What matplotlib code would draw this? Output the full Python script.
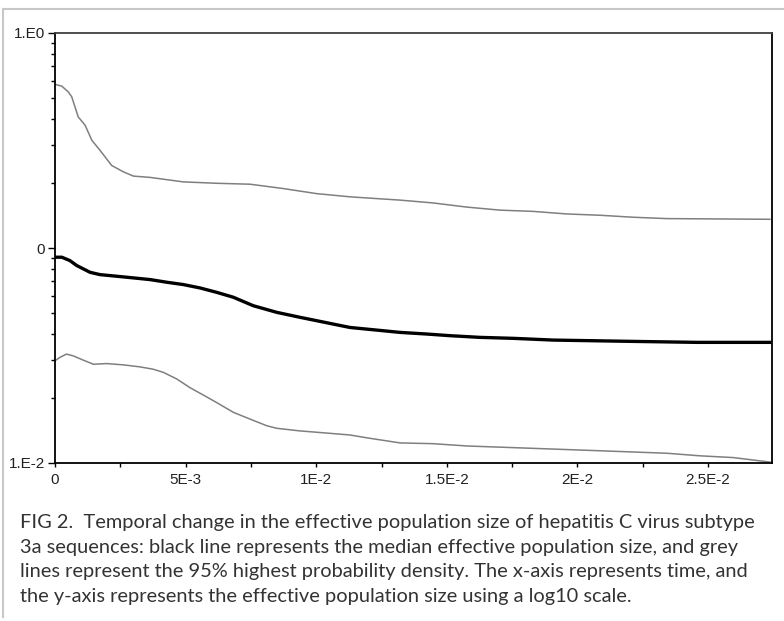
import matplotlib
matplotlib.use('Agg')
import matplotlib.pyplot as plt
from matplotlib.lines import Line2D
from matplotlib.ticker import LogLocator, FixedLocator, FixedFormatter, NullFormatter

# time (x) in units of 1E-3
upper_x = [0, 0.26, 0.51, 0.64, 0.89, 1.15, 1.41, 1.72, 2.17, 2.62, 3.00, 3.64, 4.91, 6.19, 7.47,
           8.74, 10.02, 11.29, 13.21, 14.48, 15.76, 17.04, 18.31, 19.59, 20.87, 22.14, 23.42, 27.37]
upper_y = [0.577, 0.566, 0.532, 0.505, 0.407, 0.373, 0.317, 0.285, 0.242, 0.226, 0.216, 0.213, 0.203, 0.200, 0.198,
           0.189, 0.179, 0.173, 0.167, 0.162, 0.155, 0.150, 0.148, 0.144, 0.142, 0.139, 0.137, 0.136]

median_x = [0, 0.26, 0.57, 0.83, 1.34, 1.72, 2.36, 3.00, 3.64, 4.28, 4.91, 5.55, 6.19, 6.83, 7.59,
            8.49, 9.38, 10.02, 11.29, 13.21, 14.23, 15.12, 16.27, 17.55, 19.08, 22.01, 24.57, 27.37]
median_y = [0.0906, 0.0906, 0.0874, 0.0829, 0.0771, 0.0752, 0.0739, 0.0726, 0.0713, 0.0693, 0.0676, 0.0652, 0.0622, 0.0590, 0.0539,
            0.0502, 0.0476, 0.0459, 0.0427, 0.0405, 0.0398, 0.0391, 0.0384, 0.0380, 0.0373, 0.0368, 0.0364, 0.0364]

lower_x = [0, 0.19, 0.44, 0.70, 1.08, 1.47, 1.98, 2.62, 3.25, 3.76, 4.15, 4.66, 5.17, 5.68, 6.19, 6.83,
           7.47, 8.11, 8.49, 9.38, 10.02, 11.29, 11.93, 13.21, 14.47, 15.77, 18.30, 20.87, 23.43, 24.69, 25.96, 27.37]
lower_y = [0.0299, 0.0310, 0.0321, 0.0315, 0.0301, 0.0288, 0.0290, 0.0286, 0.0280, 0.0273, 0.0264, 0.0246, 0.0224, 0.0207, 0.0191, 0.0172,
           0.0160, 0.0149, 0.0145, 0.0141, 0.0139, 0.0135, 0.0131, 0.0124, 0.0123, 0.0120, 0.0117, 0.0114, 0.0111, 0.0108, 0.0106, 0.0101]

x_ticks = [0, 5e-3, 1e-2, 1.5e-2, 2e-2, 2.5e-2]
x_ticklabels = ['0', '5E-3', '1E-2', '1.5E-2', '2E-2', '2.5E-2']
y_ticks = [0.01, 0.1, 1.0]
y_ticklabels = ['1.E-2', '0', '1.E0']

caption = [
    'FIG 2.  Temporal change in the effective population size of hepatitis C virus subtype',
    '3a sequences: black line represents the median effective population size, and grey',
    'lines represent the 95% highest probability density. The x-axis represents time, and',
    'the y-axis represents the effective population size using a log10 scale.',
]

W, H = 784, 621
fig = plt.figure(figsize=(W / 100, H / 100), dpi=100)
ax = fig.add_axes([55 / W, 1 - 463 / H, (772 - 55) / W, (463 - 33) / H])

grey = '#7f7f7f'
ax.plot([v * 1e-3 for v in upper_x], upper_y, color=grey, lw=1.1)
ax.plot([v * 1e-3 for v in lower_x], lower_y, color=grey, lw=1.1)
ax.plot([v * 1e-3 for v in median_x], median_y, color='black', lw=2.4)

ax.set_yscale('log')
ax.set_ylim(0.01, 1.0)
ax.set_xlim(0, 0.02745)

ax.yaxis.set_major_locator(FixedLocator(y_ticks))
ax.yaxis.set_major_formatter(FixedFormatter(y_ticklabels))
ax.yaxis.set_minor_locator(LogLocator(base=10, subs=range(2, 10)))
ax.yaxis.set_minor_formatter(NullFormatter())
ax.xaxis.set_major_locator(FixedLocator(x_ticks))
ax.xaxis.set_major_formatter(FixedFormatter(x_ticklabels))
ax.xaxis.set_minor_locator(FixedLocator([0.0025, 0.0075, 0.0125, 0.0175, 0.0225, 0.0275]))

for lab in ax.get_xticklabels() + ax.get_yticklabels():
    lab.set_fontfamily('Liberation Sans')
    lab.set_fontsize(11)
    lab.set_color('#222222')
ax.tick_params(which='major', direction='out', length=5, width=1, color='black')
ax.tick_params(which='minor', direction='out', length=3, width=1, color='black')
ax.tick_params(axis='x', which='both', length=3, pad=4)
ax.tick_params(axis='y', pad=2)

ax.spines['left'].set_color('black')
ax.spines['bottom'].set_color('black')
ax.spines['right'].set_color('black')
ax.spines['top'].set_color('#404040')
for s in ax.spines.values():
    s.set_linewidth(1.3)

# light frame round the figure
fig.add_artist(Line2D([3 / W, 1], [1 - 9 / H, 1 - 9 / H], color='#c8c8c8', lw=1.5))
fig.add_artist(Line2D([3 / W, 3 / W], [1 - 9 / H, 1 - 617 / H], color='#c8c8c8', lw=1.5))

baselines = [528, 553, 577, 602]
for line, b in zip(caption, baselines):
    fig.text(20 / W, 1 - b / H, line, family='Lato', fontsize=14.4, color='#333333', va='baseline', ha='left')

fig.savefig('out.png', dpi=100)
